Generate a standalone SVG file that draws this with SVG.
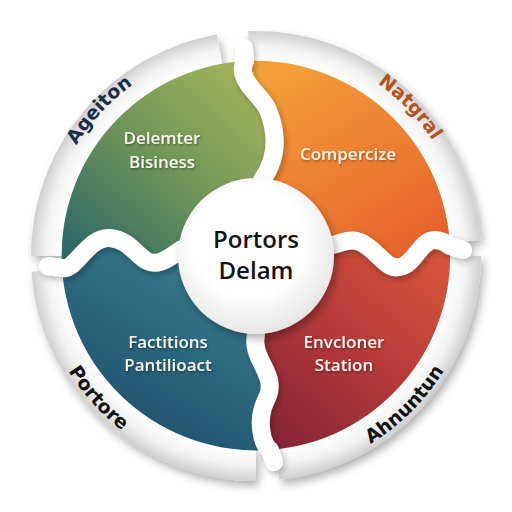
<svg xmlns="http://www.w3.org/2000/svg" width="512" height="512" viewBox="0 0 512 512">
<defs>
<filter id="sh" x="-20%" y="-20%" width="140%" height="140%"><feDropShadow dx="3" dy="5" stdDeviation="4" flood-color="#000" flood-opacity="0.3"/></filter>
<filter id="sh2" x="-20%" y="-20%" width="140%" height="140%"><feDropShadow dx="2" dy="3" stdDeviation="3" flood-color="#000" flood-opacity="0.28"/></filter>
<filter id="ts" x="-10%" y="-30%" width="120%" height="160%"><feDropShadow dx="1" dy="1.5" stdDeviation="1.2" flood-color="#000" flood-opacity="0.35"/></filter>
<radialGradient id="rim" gradientUnits="userSpaceOnUse" cx="256" cy="256" r="225"><stop offset="0.86" stop-color="#ffffff"/><stop offset="0.93" stop-color="#f3f3f3"/><stop offset="1" stop-color="#cfcfcf"/></radialGradient>
<radialGradient id="ctr" cx="0.45" cy="0.4" r="0.6"><stop offset="0.6" stop-color="#ffffff"/><stop offset="1" stop-color="#e6e6e6"/></radialGradient>
<linearGradient id="gGreen" x1="0.9" y1="0.1" x2="0.1" y2="0.95"><stop offset="0" stop-color="#a2b45a"/><stop offset="0.5" stop-color="#6f9458"/><stop offset="1" stop-color="#2f6a68"/></linearGradient>
<linearGradient id="gOrange" x1="0.2" y1="0" x2="0.8" y2="1"><stop offset="0" stop-color="#f4a03a"/><stop offset="1" stop-color="#e5602b"/></linearGradient>
<linearGradient id="gRed" x1="0.9" y1="0" x2="0.1" y2="1"><stop offset="0" stop-color="#d8583a"/><stop offset="0.5" stop-color="#b5393a"/><stop offset="1" stop-color="#822536"/></linearGradient>
<linearGradient id="gBlue" x1="0.8" y1="0" x2="0.2" y2="1"><stop offset="0" stop-color="#3b8193"/><stop offset="1" stop-color="#1d4c68"/></linearGradient>
<path id="pAgeiton" d="M 45.3 245 A 211 211 0 0 1 230.3 46.6"/>
<path id="pNatgral" d="M 278.1 46.2 A 211 211 0 0 1 466.5 241.3"/>
<path id="pPortore" d="M 36.1 263.7 A 220 220 0 0 0 225.4 473.9"/>
<path id="pAhnuntun" d="M 275.2 475.2 A 220 220 0 0 0 475.2 275.2"/>
</defs>
<style>
.rim{fill:none;stroke:url(#rim);stroke-width:32;filter:url(#sh)}
.sep{fill:none;stroke:#ffffff;stroke-width:18;stroke-linecap:round;stroke-linejoin:round}
.lbl{font-family:"Open Sans","Liberation Sans",sans-serif;font-weight:600;font-size:17px;fill:#f4f4ea;text-anchor:middle;filter:url(#ts)}
.rl{font-family:"DejaVu Sans","Liberation Sans",sans-serif;font-weight:bold;font-size:19px;text-anchor:middle}
.ct{font-family:"Open Sans","Liberation Sans",sans-serif;font-weight:600;font-size:24px;fill:#111;text-anchor:middle}
</style>
<rect width="512" height="512" fill="#ffffff"/>
<g id="rim-ring">
<path class="rim" d="M 47 256 A 209 209 0 0 1 219.7 50.2"/>
<path class="rim" d="M 248.7 47.1 A 209 209 0 0 1 464.5 241.4"/>
<path class="rim" d="M 465 256 A 209 209 0 0 1 277.8 463.9"/>
<path class="rim" d="M 256 465 A 209 209 0 0 1 47.5 270.6"/>
</g>
<g id="q-green">
<path fill="url(#gGreen)" d="M 245 61 C 235 80 262 95 268 110 C 276 130 280 155 262 180 L 256 256 L 185 248 C 178 250 172 258 160 262 C 140 268 135 240 110 238 C 88 236 75 272 62 268 A 195 195 0 0 1 245 61 Z"/>
</g>
<g id="q-orange">
<path fill="url(#gOrange)" d="M 245 61 C 235 80 262 95 268 110 C 276 130 280 155 262 180 L 256 256 L 330 246 C 340 243 350 238 360 242 C 378 250 385 270 400 267 C 415 264 420 240 435 240 C 443 240 447 244 450 246 A 195 195 0 0 0 245 61 Z"/>
</g>
<g id="q-red">
<path fill="url(#gRed)" d="M 256 256 L 330 246 C 340 243 350 238 360 242 C 378 250 385 270 400 267 C 415 264 420 240 435 240 C 443 240 447 244 450 246 A 195 195 0 0 1 270 450 C 262 445 256 420 266 400 C 280 375 250 360 256 334 Z"/>
</g>
<g id="q-blue">
<path fill="url(#gBlue)" d="M 256 256 L 256 334 C 250 360 280 375 266 400 C 256 420 262 445 270 450 A 195 195 0 0 1 62 268 C 75 272 88 236 110 238 C 135 240 140 268 160 262 C 172 258 178 250 185 248 Z"/>
</g>
<g id="connectors" filter="url(#sh2)">
<path class="sep" d="M 244 48 L 245 61 C 235 80 262 95 268 110 C 276 130 280 155 262 180 L 256 220"/>
<path class="sep" d="M 48 266 L 62 268 C 75 272 88 236 110 238 C 135 240 140 268 160 262 C 172 258 178 250 185 248 L 220 250"/>
<path class="sep" d="M 300 250 L 330 246 C 340 243 350 238 360 242 C 378 250 385 270 400 267 C 415 264 420 240 435 240 C 443 240 447 244 450 246 L 463 250"/>
<path class="sep" d="M 256 300 L 256 334 C 250 360 280 375 266 400 C 256 420 262 445 270 450 L 274 462"/>
</g>
<g id="center">
<circle cx="256" cy="256" r="78" fill="url(#ctr)" filter="url(#sh)"/>
<text class="ct" x="256" y="248">Portors</text>
<text class="ct" x="256" y="279">Delam</text>
</g>
<g id="label-green">
<text class="lbl" x="162" y="144">Delemter</text>
<text class="lbl" x="162" y="168">Bisiness</text>
</g>
<g id="label-orange">
<text class="lbl" x="348" y="160">Compercize</text>
</g>
<g id="label-blue">
<text class="lbl" x="168" y="348">Factitions</text>
<text class="lbl" x="168" y="371">Pantilioact</text>
</g>
<g id="label-red">
<text class="lbl" x="344" y="348">Envcloner</text>
<text class="lbl" x="344" y="371">Station</text>
</g>
<g id="rim-labels">
<text class="rl" fill="#1b2d4a"><textPath href="#pAgeiton" startOffset="50%">Ageiton</textPath></text>
<text class="rl" fill="#b4531f"><textPath href="#pNatgral" startOffset="50%">Natgral</textPath></text>
<text class="rl" fill="#111111"><textPath href="#pPortore" startOffset="50%">Portore</textPath></text>
<text class="rl" fill="#111111"><textPath href="#pAhnuntun" startOffset="50%">Ahnuntun</textPath></text>
</g>
</svg>
